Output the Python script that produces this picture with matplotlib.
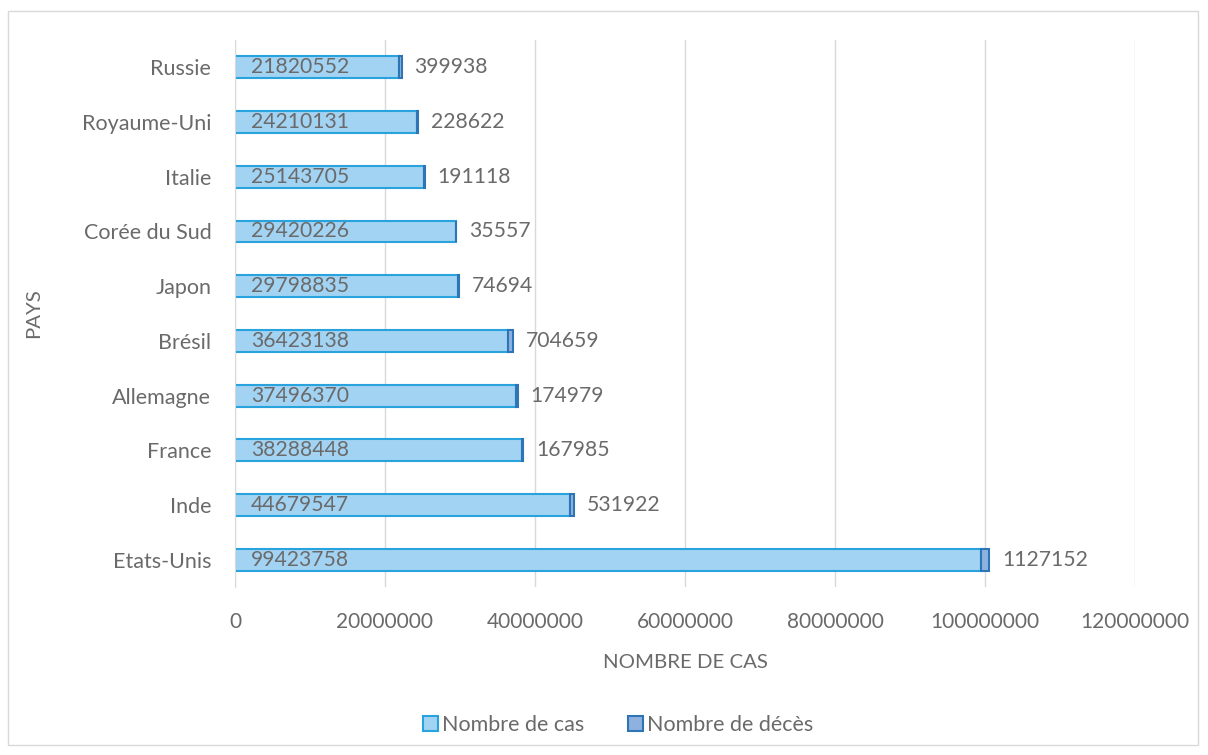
import matplotlib.pyplot as plt
from matplotlib.patches import Rectangle
import numpy as np

pays = ['Etats-Unis', 'Inde', 'France', 'Allemagne', 'Brésil', 'Japon',
        'Corée du Sud', 'Italie', 'Royaume-Uni', 'Russie']
cas = [99423758, 44679547, 38288448, 37496370, 36423138, 29798835,
       29420226, 25143705, 24210131, 21820552]
deces = [1127152, 531922, 167985, 174979, 704659, 74694,
         35557, 191118, 228622, 399938]

plt.rcParams['font.family'] = ['Lato', 'DejaVu Sans']
gris = '#6A6A6A'

fig = plt.figure(figsize=(12.08, 7.55), dpi=100)
ax = fig.add_axes([0.1945, 0.2225, 0.7451, 0.7245])

# cadre du graphique
fig.patches.append(Rectangle((8 / 1208, 10 / 755), 1190 / 1208, 734 / 755,
                             transform=fig.transFigure, fill=False,
                             edgecolor='#D9D9D9', linewidth=1))

y = np.arange(len(pays))
h = 0.4
ax.barh(y, cas, height=h, color='#A3D3F2', edgecolor='#29A3DD', linewidth=1.5,
        label='Nombre de cas', zorder=3)
ax.barh(y, deces, left=cas, height=h, color='#8FB1E0', edgecolor='#2E75B6',
        linewidth=1.5, label='Nombre de décès', zorder=3)

# étiquettes
for i in range(len(pays)):
    ax.text(2100000, y[i], str(cas[i]), va='center', ha='left', fontsize=15.2,
            color=gris, zorder=4)
    ax.text(cas[i] + deces[i] + 1700000, y[i], str(deces[i]), va='center',
            ha='left', fontsize=15.2, color=gris, zorder=4)

ax.set_xlim(0, 120000000)
ax.set_ylim(-0.5, len(pays) - 0.5)
ax.set_xticks(np.arange(0, 120000001, 20000000))
ax.set_xticklabels([str(v) for v in range(0, 120000001, 20000000)])
ax.set_yticks(y)
ax.set_yticklabels(pays)
ax.tick_params(axis='both', length=0, labelsize=15, labelcolor=gris)
ax.tick_params(axis='y', labelsize=15.5, pad=17)
ax.tick_params(axis='x', pad=18)
ax.grid(axis='x', color='#D9D9D9', linewidth=1, zorder=0)
for s in ['top', 'right', 'bottom']:
    ax.spines[s].set_visible(False)
ax.spines['left'].set_color('#D9D9D9')
ax.spines['left'].set_zorder(5)

ax.set_xlabel('NOMBRE DE CAS', fontsize=14.7, color=gris, labelpad=16)
ax.set_ylabel('PAYS', fontsize=14.7, color=gris)
ax.yaxis.set_label_coords((42 - 235) / 900, 0.5)

ax.legend(loc='center', bbox_to_anchor=(618 / 1208, 1 - 725 / 755),
          bbox_transform=fig.transFigure, ncol=2, frameon=False, fontsize=15.5,
          labelcolor=gris, handlelength=0.7, handleheight=0.7,
          handletextpad=0.2, columnspacing=2.0)

plt.savefig('out.png', dpi=100)
